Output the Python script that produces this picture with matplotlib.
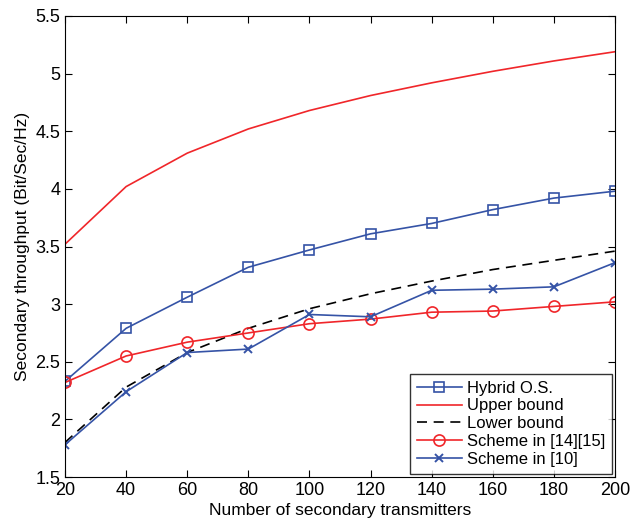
import matplotlib
matplotlib.use('Agg')
import matplotlib.pyplot as plt

plt.rcParams['font.family'] = ['Liberation Sans', 'DejaVu Sans']

# Anzahl der sekundären Sender
n_tx = [20, 40, 60, 80, 100, 120, 140, 160, 180, 200]

hybrid_os = [2.33, 2.79, 3.06, 3.32, 3.47, 3.61, 3.70, 3.82, 3.92, 3.98]
upper_bound = [3.52, 4.02, 4.31, 4.52, 4.68, 4.81, 4.92, 5.02, 5.11, 5.19]
lower_bound = [1.80, 2.28, 2.58, 2.79, 2.96, 3.09, 3.20, 3.30, 3.38, 3.46]
scheme_14_15 = [2.32, 2.55, 2.67, 2.75, 2.83, 2.87, 2.93, 2.94, 2.98, 3.02]
scheme_10 = [1.78, 2.24, 2.58, 2.61, 2.91, 2.89, 3.12, 3.13, 3.15, 3.36]

blau = '#3553a6'
rot = '#f0262a'

fig = plt.figure(figsize=(6.3, 5.29), dpi=100)
ax = fig.add_axes([65 / 630, 1 - 477 / 529, 550 / 630, 461 / 529])

ax.plot(n_tx, hybrid_os, color=blau, marker='s', markersize=7, markerfacecolor='none',
        markeredgewidth=1.2, lw=1.2, label='Hybrid O.S.')
ax.plot(n_tx, upper_bound, color=rot, lw=1.2, label='Upper bound')
ax.plot(n_tx, lower_bound, color='black', ls=(0, (6, 4)), lw=1.2, label='Lower bound')
ax.plot(n_tx, scheme_14_15, color=rot, marker='o', markersize=8, markerfacecolor='none',
        markeredgewidth=1.2, lw=1.2, label='Scheme in [14][15]')
ax.plot(n_tx, scheme_10, color=blau, marker='x', markersize=6, markeredgewidth=1.4,
        lw=1.2, label='Scheme in [10]')

ax.set_xlim(20, 200)
ax.set_ylim(1.5, 5.5)
ax.set_xticks(range(20, 201, 20))
ax.set_yticks([1.5, 2, 2.5, 3, 3.5, 4, 4.5, 5, 5.5])
ax.set_yticklabels(['1.5', '2', '2.5', '3', '3.5', '4', '4.5', '5', '5.5'])
ax.tick_params(direction='in', labelsize=13, top=True, right=True, length=5)
ax.set_xlabel('Number of secondary transmitters', fontsize=12.5, labelpad=3)
ax.set_ylabel('Secondary throughput (Bit/Sec/Hz)', fontsize=12.5)

leg = ax.legend(loc='lower right', fontsize=12, fancybox=False, edgecolor='black',
                borderaxespad=0.2, handlelength=2.7, handletextpad=0.3,
                labelspacing=0.17, borderpad=0.4)
leg.get_frame().set_linewidth(1.0)

plt.savefig('out.png', dpi=100)
